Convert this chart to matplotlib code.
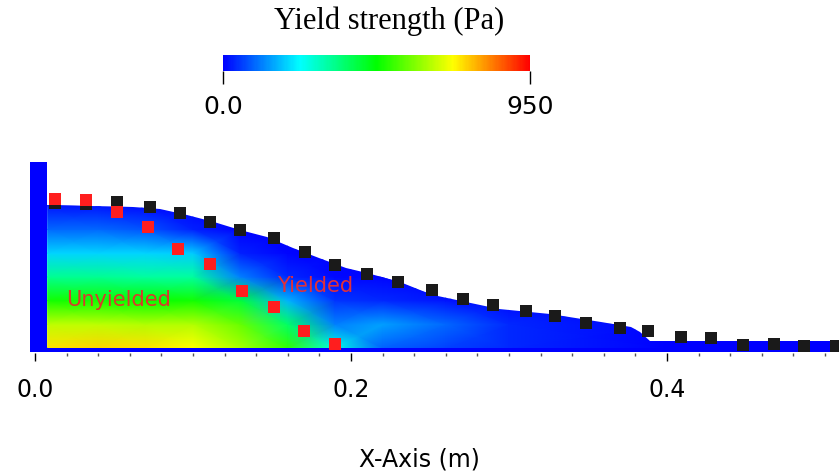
import numpy as np
import matplotlib
matplotlib.use("Agg")
import matplotlib.pyplot as plt
from matplotlib.colors import LinearSegmentedColormap, Normalize
from matplotlib.cm import ScalarMappable
from matplotlib.patches import Polygon

# free surface profile of the slumped material (m)
surf_x = [0.0076, 0.062, 0.079, 0.096, 0.113, 0.130, 0.147, 0.163, 0.180, 0.197, 0.210,
          0.231, 0.244, 0.252, 0.273, 0.294, 0.326, 0.358, 0.377, 0.383, 0.389, 0.509]
surf_y = [0.0905, 0.0892, 0.0880, 0.0842, 0.0797, 0.0747, 0.0703, 0.0633, 0.0570, 0.0506, 0.0475,
          0.0418, 0.0367, 0.0335, 0.0291, 0.0247, 0.0215, 0.0165, 0.0133, 0.0101, 0.0044, 0.0044]

# yield strength (Pa) sampled on a coarse grid
grid_x = [0.008, 0.04, 0.07, 0.10, 0.13, 0.16, 0.19, 0.22, 0.26, 0.30, 0.40, 0.51]
grid_y = [0.0, 0.015, 0.03, 0.045, 0.06, 0.075, 0.09, 0.105]
tau = [
    [740, 750, 740, 710, 630, 520, 260, 90, 60, 40, 0, 0],
    [650, 650, 640, 640, 570, 380, 120, 150, 100, 40, 0, 0],
    [490, 490, 480, 490, 420, 170, 50, 40, 20, 5, 0, 0],
    [340, 340, 330, 330, 120, 40, 10, 5, 0, 0, 0, 0],
    [200, 200, 200, 190, 30, 5, 0, 0, 0, 0, 0, 0],
    [100, 100, 80, 30, 0, 0, 0, 0, 0, 0, 0, 0],
    [20, 20, 10, 0, 0, 0, 0, 0, 0, 0, 0, 0],
    [0, 0, 0, 0, 0, 0, 0, 0, 0, 0, 0, 0],
]

# gate remnant at the left wall and thin bottom layer (m)
wall_x = [-0.0032, 0.0076]
wall_top = 0.1177
floor_y = -0.0025

# surface markers (black) and yield boundary markers (red)
blk_x = [0.0127, 0.032, 0.052, 0.073, 0.092, 0.111, 0.130, 0.151, 0.171, 0.190, 0.210, 0.230, 0.251,
         0.271, 0.290, 0.311, 0.329, 0.349, 0.370, 0.388, 0.409, 0.428, 0.448, 0.468, 0.487, 0.507]
blk_y = [0.0915, 0.0912, 0.0924, 0.0892, 0.0854, 0.0797, 0.0747, 0.0696, 0.0608, 0.0525, 0.0468, 0.0418,
         0.0367, 0.0310, 0.0272, 0.0234, 0.0203, 0.0158, 0.0127, 0.0108, 0.0070, 0.0063, 0.0019, 0.0025,
         0.0013, 0.0013]
red_x = [0.0127, 0.032, 0.052, 0.0715, 0.0905, 0.111, 0.131, 0.151, 0.170, 0.190]
red_y = [0.0943, 0.0937, 0.0861, 0.0766, 0.0627, 0.0532, 0.0361, 0.0259, 0.0108, 0.0025]

tau_min, tau_max = 0.0, 950.0

cmap = LinearSegmentedColormap.from_list(
    "ys", ["#0000ff", "#00ffff", "#00ff00", "#ffff00", "#ff0000"])
norm = Normalize(vmin=tau_min, vmax=tau_max)
blue = cmap(0.0)

fig = plt.figure(figsize=(8.39, 4.72), dpi=100)
ax = fig.add_axes([0.0, 0.2521, 1.0, 0.4513])
ax.set_xlim(-0.02215, 0.5089)
ax.set_ylim(-0.00316, 0.1316)

# wall column and bottom layer
ax.fill_between(wall_x, [floor_y, floor_y], [wall_top, wall_top], color=blue, lw=0, zorder=1)
ax.fill_between([wall_x[0], surf_x[-1] + 0.01], [floor_y, floor_y], [0.0006, 0.0006],
                color=blue, lw=0, zorder=1)

# field clipped to the material outline
gx, gy = np.meshgrid(grid_x, grid_y)
mesh = ax.pcolormesh(gx, gy, np.array(tau, dtype=float), cmap=cmap, norm=norm,
                     shading="gouraud", zorder=2)
outline = [(surf_x[0], 0.0)] + list(zip(surf_x, surf_y)) + [(surf_x[-1] + 0.01, surf_y[-1]),
                                                           (surf_x[-1] + 0.01, 0.0)]
clip = Polygon(outline, closed=True, transform=ax.transData, facecolor="none", edgecolor="none")
ax.add_patch(clip)
mesh.set_clip_path(clip)

ax.plot(blk_x, blk_y, "s", color="#1a1a1a", ms=9, mew=0, zorder=4, clip_on=False)
ax.plot(red_x, red_y, "s", color="#ff1e1e", ms=9, mew=0, zorder=5)

ax.text(0.0532, 0.0304, "Unyielded", color="#d93a2b", fontsize=15, ha="center", va="center", zorder=6)
ax.text(0.1772, 0.0392, "Yielded", color="#e0303a", fontsize=15, ha="center", va="center", zorder=6)

for s in ax.spines.values():
    s.set_visible(False)
ax.set_yticks([])
ax.set_xticks([0.0, 0.2, 0.4])
ax.set_xticklabels(["0.0", "0.2", "0.4"])
ax.set_xticks(np.arange(0.02, 0.51, 0.02), minor=True)
ax.tick_params(axis="x", which="major", length=6, width=1, pad=12, labelsize=17, direction="out")
ax.tick_params(axis="x", which="minor", length=2, width=1, color="#555555")
ax.set_xlabel("X-Axis (m)", fontsize=17, labelpad=33)

# colour bar on top
cax = fig.add_axes([0.2658, 0.8496, 0.3659, 0.0339])
cb = fig.colorbar(ScalarMappable(norm=norm, cmap=cmap), cax=cax, orientation="horizontal")
cb.outline.set_visible(False)
cb.set_ticks([tau_min, tau_max])
cb.set_ticklabels(["0.0", "950"])
cax.tick_params(axis="x", length=9, width=1, pad=8, labelsize=18)
ticks = cax.xaxis.get_major_ticks()
ticks[0].tick1line.set_color(cmap(0.0))
ticks[1].tick1line.set_color(cmap(1.0))
fig.text(389 / 839, 1 - 21 / 472, "Yield strength (Pa)", family="Liberation Serif",
         fontsize=22, ha="center", va="center")

fig.savefig("out.png", dpi=100)
